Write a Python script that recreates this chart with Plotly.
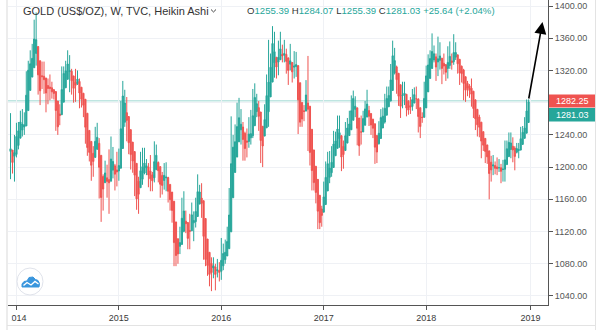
import pandas as pd
import plotly.graph_objects as go

# ---- Weekly gold prices (US$/oz), one entry per week starting Monday ----
first_open = 1236.0  # close of the week before the first bar

closes_2013 = [1203, 1213, 1237]
highs_2013 = [1267, 1215, 1240]
lows_2013 = [1185, 1192, 1182]

closes_2014 = [1248, 1254, 1264, 1240, 1262, 1318, 1324, 1326, 1339, 1379, 1336, 1293, 1303,
               1318, 1294, 1300, 1302, 1290, 1293, 1292, 1250, 1252, 1274, 1316, 1316, 1320,
               1337, 1310, 1307, 1293, 1310, 1305, 1280, 1287, 1268, 1231, 1216, 1214, 1192,
               1222, 1238, 1231, 1171, 1169, 1185, 1197, 1167, 1191, 1222, 1195, 1195, 1186]
highs_2014 = [1255, 1256, 1270, 1272, 1268, 1319, 1332, 1345, 1353, 1383, 1392, 1339, 1306,
              1331, 1331, 1306, 1310, 1315, 1306, 1297, 1294, 1258, 1278, 1325, 1325, 1332,
              1345, 1339, 1322, 1311, 1322, 1320, 1310, 1296, 1290, 1270, 1236, 1236, 1220,
              1226, 1250, 1255, 1236, 1177, 1191, 1208, 1203, 1222, 1238, 1225, 1204, 1219]
lows_2014 = [1212, 1222, 1236, 1238, 1240, 1258, 1307, 1318, 1322, 1335, 1326, 1290, 1277,
             1297, 1291, 1268, 1278, 1283, 1285, 1284, 1245, 1240, 1252, 1270, 1308, 1310,
             1310, 1293, 1290, 1280, 1281, 1302, 1273, 1274, 1262, 1229, 1214, 1207, 1183,
             1188, 1218, 1224, 1161, 1132, 1146, 1181, 1162, 1142, 1189, 1186, 1171, 1176]

closes_2015 = [1216, 1277, 1293, 1279, 1234, 1227, 1205, 1212, 1167, 1152, 1183, 1199, 1201,
               1204, 1203, 1178, 1179, 1189, 1225, 1205, 1189, 1168, 1181, 1201, 1173, 1163,
               1157, 1131, 1085, 1095, 1094, 1113, 1159, 1134, 1121, 1103, 1138, 1145, 1137,
               1156, 1177, 1162, 1141, 1088, 1081, 1076, 1057, 1085, 1075, 1065, 1076, 1061]
highs_2015 = [1223, 1282, 1307, 1296, 1287, 1244, 1233, 1220, 1217, 1176, 1188, 1219, 1224,
              1224, 1210, 1205, 1215, 1194, 1232, 1228, 1207, 1196, 1194, 1205, 1206, 1188,
              1172, 1166, 1132, 1104, 1100, 1126, 1162, 1170, 1146, 1124, 1142, 1156, 1145,
              1162, 1191, 1178, 1180, 1142, 1095, 1089, 1082, 1088, 1088, 1080, 1086, 1082]
lows_2015 = [1183, 1215, 1276, 1250, 1232, 1216, 1197, 1193, 1164, 1147, 1142, 1181, 1178,
             1191, 1190, 1175, 1170, 1170, 1181, 1201, 1181, 1162, 1166, 1172, 1170, 1156,
             1146, 1131, 1077, 1077, 1080, 1092, 1112, 1119, 1118, 1098, 1098, 1124, 1108,
             1125, 1154, 1159, 1137, 1085, 1077, 1065, 1052, 1046, 1062, 1047, 1063, 1058]

closes_2016 = [1104, 1090, 1097, 1118, 1158, 1239, 1230, 1235, 1260, 1259, 1254, 1219, 1221,
               1243, 1235, 1232, 1290, 1290, 1272, 1253, 1217, 1243, 1275, 1299, 1315, 1340,
               1366, 1328, 1323, 1351, 1335, 1335, 1341, 1321, 1327, 1328, 1310, 1338, 1316,
               1257, 1251, 1267, 1275, 1304, 1225, 1209, 1183, 1177, 1160, 1134, 1131, 1151]
highs_2016 = [1112, 1105, 1110, 1126, 1174, 1263, 1240, 1253, 1280, 1286, 1272, 1256, 1244,
              1248, 1262, 1271, 1297, 1304, 1291, 1282, 1257, 1245, 1278, 1315, 1358, 1341,
              1375, 1368, 1336, 1357, 1368, 1352, 1358, 1347, 1330, 1353, 1330, 1344, 1343,
              1320, 1265, 1271, 1277, 1308, 1338, 1237, 1220, 1192, 1182, 1164, 1136, 1152]
lows_2016 = [1060, 1072, 1080, 1090, 1112, 1157, 1190, 1208, 1226, 1240, 1228, 1208, 1208,
             1212, 1224, 1228, 1236, 1262, 1262, 1245, 1205, 1200, 1240, 1266, 1250, 1300,
             1333, 1311, 1310, 1314, 1333, 1330, 1330, 1316, 1302, 1320, 1305, 1310, 1312,
             1241, 1250, 1250, 1257, 1271, 1220, 1202, 1171, 1171, 1155, 1123, 1123, 1126]

closes_2017 = [1173, 1197, 1205, 1190, 1220, 1234, 1236, 1257, 1226, 1202, 1229, 1244, 1249,
               1254, 1287, 1284, 1268, 1228, 1228, 1254, 1268, 1280, 1271, 1254, 1256, 1241,
               1212, 1228, 1255, 1269, 1258, 1289, 1285, 1291, 1325, 1346, 1320, 1297, 1280,
               1275, 1304, 1280, 1266, 1269, 1275, 1293, 1287, 1280, 1248, 1257, 1266, 1303]
highs_2017 = [1182, 1207, 1219, 1220, 1226, 1245, 1244, 1264, 1264, 1227, 1233, 1256, 1261,
              1270, 1289, 1295, 1288, 1270, 1236, 1264, 1270, 1282, 1296, 1276, 1259, 1260,
              1242, 1230, 1257, 1272, 1274, 1291, 1300, 1300, 1328, 1357, 1348, 1326, 1299,
              1286, 1306, 1306, 1284, 1283, 1287, 1297, 1299, 1300, 1280, 1260, 1268, 1306]
lows_2017 = [1146, 1172, 1196, 1180, 1188, 1216, 1216, 1232, 1224, 1195, 1198, 1227, 1240,
             1241, 1250, 1275, 1262, 1227, 1214, 1228, 1249, 1259, 1266, 1251, 1240, 1236,
             1204, 1205, 1228, 1250, 1252, 1254, 1267, 1280, 1289, 1325, 1315, 1291, 1276,
             1261, 1273, 1277, 1263, 1265, 1266, 1270, 1281, 1272, 1243, 1236, 1255, 1266]

closes_2018 = [1322, 1338, 1332, 1349, 1333, 1316, 1347, 1329, 1323, 1323, 1313, 1347, 1325,
               1332, 1345, 1336, 1323, 1314, 1319, 1291, 1302, 1294, 1298, 1279, 1270, 1252,
               1255, 1241, 1231, 1223, 1214, 1212, 1184, 1206, 1200, 1196, 1194, 1199, 1196,
               1203, 1218, 1226, 1233, 1233, 1209, 1222, 1223, 1222, 1248, 1238, 1258, 1281]
highs_2018 = [1326, 1340, 1345, 1366, 1351, 1341, 1362, 1355, 1335, 1341, 1328, 1350, 1356,
              1341, 1365, 1355, 1338, 1328, 1326, 1322, 1308, 1307, 1303, 1310, 1281, 1272,
              1265, 1265, 1246, 1235, 1236, 1221, 1212, 1214, 1215, 1207, 1212, 1210, 1204,
              1209, 1233, 1233, 1243, 1243, 1237, 1226, 1230, 1230, 1250, 1251, 1262, 1284]
lows_2018 = [1302, 1307, 1324, 1327, 1330, 1307, 1313, 1321, 1303, 1315, 1307, 1310, 1322,
             1321, 1327, 1333, 1316, 1302, 1305, 1283, 1281, 1288, 1286, 1275, 1261, 1246,
             1238, 1237, 1211, 1220, 1205, 1204, 1160, 1182, 1190, 1191, 1190, 1194, 1180,
             1182, 1182, 1214, 1221, 1211, 1206, 1196, 1217, 1211, 1221, 1236, 1236, 1256]

# Current (still open) Heikin Ashi bar, week of 2018-12-31
last_ha_open, last_ha_high, last_ha_low, last_ha_close = 1255.39, 1284.07, 1255.39, 1281.03
last_price = 1282.25

year_ticks = ["2014-01-06", "2015-01-05", "2016-01-04", "2017-01-02", "2018-01-01", "2019-01-07"]
year_labels = ["2014", "2015", "2016", "2017", "2018", "2019"]
price_ticks = [1040, 1080, 1120, 1160, 1200, 1240, 1280, 1320, 1360, 1400]

# ---- Heikin Ashi transform ----
close = closes_2013 + closes_2014 + closes_2015 + closes_2016 + closes_2017 + closes_2018
high = highs_2013 + highs_2014 + highs_2015 + highs_2016 + highs_2017 + highs_2018
low = lows_2013 + lows_2014 + lows_2015 + lows_2016 + lows_2017 + lows_2018
opens = [first_open] + close[:-1]

ha_open, ha_close, ha_high, ha_low = [], [], [], []
for i, (o, h, l, c) in enumerate(zip(opens, high, low, close)):
    hc = (o + h + l + c) / 4
    ho = (o + c) / 2 if i == 0 else (ha_open[-1] + ha_close[-1]) / 2
    ha_open.append(ho)
    ha_close.append(hc)
    ha_high.append(max(h, ho, hc))
    ha_low.append(min(l, ho, hc))

ha_open.append(last_ha_open)
ha_high.append(last_ha_high)
ha_low.append(last_ha_low)
ha_close.append(last_ha_close)

weeks = pd.date_range("2013-12-16", periods=len(ha_close), freq="7D")

TEAL = "#26a69a"
RED = "#ef5350"

# ---- page geometry (pixels) ----
W, H = 600, 330
ML, MR, MT, MB = 8, 52, 0, 25
PW, PH = W - ML - MR, H - MT - MB


def px(x):
    return (x - ML) / PW


def py(y):
    return (H - MB - y) / PH


def pix_path(points, close_path=False):
    d = "M " + " L ".join(f"{px(x):.5f},{py(y):.5f}" for x, y in points)
    return d + (" Z" if close_path else "")


fig = go.Figure()
fig.add_trace(go.Candlestick(
    x=weeks, open=ha_open, high=ha_high, low=ha_low, close=ha_close,
    increasing=dict(line=dict(color=TEAL, width=1), fillcolor=TEAL),
    decreasing=dict(line=dict(color=RED, width=1), fillcolor=RED),
    whiskerwidth=0, showlegend=False, hoverinfo="skip",
))

shapes = [
    # last price line
    dict(type="line", xref="paper", yref="y", x0=0, x1=1, y0=last_price, y1=last_price,
         line=dict(color="rgba(38,166,154,0.45)", width=1), layer="below"),
    # price tags on the scale
    dict(type="rect", xref="paper", yref="paper", x0=px(549), x1=px(596), y0=py(107.5), y1=py(94.5),
         fillcolor=RED, line=dict(width=0)),
    dict(type="rect", xref="paper", yref="paper", x0=px(549), x1=px(596), y0=py(121.5), y1=py(108),
         fillcolor=TEAL, line=dict(width=0)),
    # left edge clipping of the time scale
    dict(type="rect", xref="paper", yref="paper", x0=px(0), x1=px(11.5), y0=py(325), y1=py(306),
         fillcolor="white", line=dict(width=0), layer="above"),
    # widget frame
    dict(type="line", xref="paper", yref="paper", x0=px(7), x1=px(7), y0=py(0), y1=py(330),
         line=dict(color="#d9d9d9", width=1)),
    dict(type="line", xref="paper", yref="paper", x0=px(595.5), x1=px(595.5), y0=py(0), y1=py(330),
         line=dict(color="#e3e3e3", width=1)),
    dict(type="line", xref="paper", yref="paper", x0=px(7), x1=px(596), y0=py(325.5), y1=py(325.5),
         line=dict(color="#e3e3e3", width=1)),
    # dropdown chevron after the title
    dict(type="path", xref="paper", yref="paper",
         path=pix_path([(211, 9.5), (213.5, 12), (216, 9.5)]),
         line=dict(color="#444", width=1)),
    # logo badge
    dict(type="circle", xref="paper", yref="paper", x0=px(17), x1=px(43), y0=py(295), y1=py(268),
         fillcolor="white", line=dict(color="#e0e3eb", width=1)),
    dict(type="path", xref="paper", yref="paper",
         path=pix_path([(22, 287), (22, 284), (24, 281.5), (27, 281), (29, 277.5), (33, 277),
                        (35.5, 279.5), (38, 280.5), (39.5, 283.5), (39, 287)], close_path=True),
         fillcolor="#3a96dd", line=dict(color="#3a96dd", width=1)),
    dict(type="path", xref="paper", yref="paper",
         path=pix_path([(23.5, 285.5), (27, 282.5), (31, 285), (35, 281.5), (38.5, 284)]),
         line=dict(color="white", width=1.4)),
]

change = last_ha_close - last_ha_open
pct = change / last_ha_open * 100
dark = "#333333"


def kv(k, v):
    return f"<span style='color:{dark}'>{k}</span><span style='color:{TEAL}'>{v}</span>"


ohlc_text = " ".join([
    kv("O", f"{last_ha_open:.2f}"), kv("H", f"{last_ha_high:.2f}"),
    kv("L", f"{last_ha_low:.2f}"), kv("C", f"{last_ha_close:.2f}"),
    f"<span style='color:{TEAL}'>{change:+.2f} ({pct:+.2f}%)</span>",
])

annotations = [
    dict(xref="paper", yref="paper", x=px(21), y=py(11), xanchor="left", yanchor="middle",
         text="GOLD (US$/OZ), W, TVC, Heikin Ashi", showarrow=False,
         font=dict(size=11, color=dark)),
    dict(xref="paper", yref="paper", x=px(245), y=py(11), xanchor="left", yanchor="middle",
         text=ohlc_text, showarrow=False, font=dict(size=9.6, color=TEAL)),
    dict(xref="paper", yref="paper", x=px(572.5), y=py(101), xanchor="center", yanchor="middle",
         text=f"{last_price:.2f}", showarrow=False, font=dict(size=9, color="white")),
    dict(xref="paper", yref="paper", x=px(572.5), y=py(114.8), xanchor="center", yanchor="middle",
         text=f"{last_ha_close:.2f}", showarrow=False, font=dict(size=9, color="white")),
    # projection arrow
    dict(xref="paper", yref="paper", x=px(542.5), y=py(22), ax=-14, ay=78, text="",
         showarrow=True, arrowhead=2, arrowsize=1.5, arrowwidth=1.6, arrowcolor="black"),
]

# the 1280 scale label sits under the price tags
price_labels = ["" if abs(v - last_price) < 10 else f"{v:.2f}" for v in price_ticks]

fig.update_layout(
    width=W, height=H,
    margin=dict(l=ML, r=MR, t=MT, b=MB),
    paper_bgcolor="white", plot_bgcolor="white",
    font=dict(family="Liberation Sans, Arial, sans-serif"),
    boxgap=0.15,
    shapes=shapes, annotations=annotations,
    xaxis=dict(
        type="date", range=["2013-12-07", "2019-03-10"], rangeslider=dict(visible=False),
        tickvals=year_ticks, ticktext=year_labels,
        showgrid=True, gridcolor="#eff1f5", gridwidth=1,
        showline=True, linecolor="#555", linewidth=1,
        ticks="outside", ticklen=4, tickcolor="#555",
        tickfont=dict(size=9, color="#3a3a3a"), zeroline=False, fixedrange=True,
    ),
    yaxis=dict(
        side="right", range=[1028.8, 1407.45], tickvals=price_ticks, ticktext=price_labels,
        showgrid=True, gridcolor="#eff1f5", gridwidth=1,
        showline=True, linecolor="#555", linewidth=1,
        ticks="outside", ticklen=4, tickcolor="#555",
        tickfont=dict(size=9, color="#555"), zeroline=False, fixedrange=True,
    ),
)

fig.write_html("out.html")
